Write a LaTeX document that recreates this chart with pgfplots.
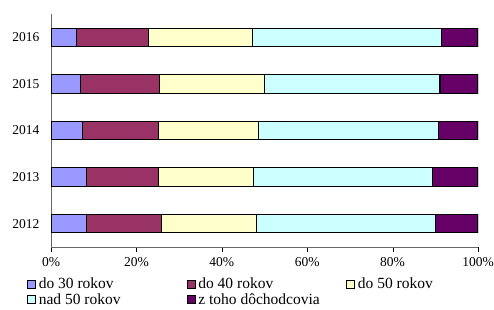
\documentclass[border=0pt]{standalone}
\usepackage{pgfplots}
\pgfplotsset{compat=1.18}
\usepackage{fontspec}
\setmainfont{Liberation Serif}
\definecolor{cA}{HTML}{9999FF}
\definecolor{cB}{HTML}{993366}
\definecolor{cC}{HTML}{FFFFCC}
\definecolor{cD}{HTML}{CCFFFF}
\definecolor{cE}{HTML}{660066}
\newcommand{\legbox}[1]{\makebox[146bp][l]{#1}}
\begin{document}
\begin{tikzpicture}[x=1bp,y=1bp]
\useasboundingbox (0,0) rectangle (494,309);
\begin{axis}[
  at={(51bp,62bp)}, anchor=south west,
  scale only axis, width=427bp, height=233bp,
  xbar stacked, bar width=18.4bp,
  xmin=0, xmax=100, ymin=-0.5, ymax=4.5,
  xtick={0,20,...,100},
  xticklabel={\pgfmathprintnumber{\tick}\%},
  ytick={0,1,2,3,4}, yticklabels={2012,2013,2014,2015,2016},
  extra y ticks={-0.5,0.5,1.5,2.5,3.5,4.5}, extra y tick labels={},
  extra y tick style={tick style={draw=black!70}},
  ytick style={draw=none},
  axis x line*=bottom, axis y line*=left,
  axis line style={draw=black!60, line width=0.8pt},
  xtick style={draw=black},
  major tick length=5bp,
  tick align=outside,
  ticklabel style={font=\fontsize{13.5bp}{15bp}\selectfont},
  /pgf/number format/assume math mode=true,
  xticklabel style={yshift=-2bp},
  yticklabel style={xshift=-3bp},
  every axis plot/.append style={draw=black, line width=1.1pt},
  legend columns=3,
  legend style={at={(-27bp,-27bp)}, anchor=north west, draw=none, fill=none,
    font=\fontsize{15.5bp}{17bp}\selectfont, row sep=-1bp,
    /tikz/every odd column/.append style={column sep=1bp}},
  legend cell align=left,
  legend image code/.code={\draw[#1, line width=0.6pt] (0bp,-4bp) rectangle (8bp,4bp);},
]
\addplot[fill=cA] coordinates {(8.3,0) (8.4,1) (7.3,2) (6.9,3) (5.9,4)};
\addplot[fill=cB] coordinates {(17.6,0) (16.8,1) (17.9,2) (18.6,3) (17.0,4)};
\addplot[fill=cC] coordinates {(22.3,0) (22.2,1) (23.4,2) (24.6,3) (24.2,4)};
\addplot[fill=cD] coordinates {(41.8,0) (41.9,1) (42.1,2) (41.0,3) (44.4,4)};
\addplot[fill=cE] coordinates {(10.0,0) (10.7,1) (9.3,2) (8.9,3) (8.5,4)};
\legend{\legbox{do 30 rokov}, \legbox{do 40 rokov}, do 50 rokov, \legbox{nad 50 rokov}, \legbox{z toho dôchodcovia}}
\end{axis}
\end{tikzpicture}
\end{document}
